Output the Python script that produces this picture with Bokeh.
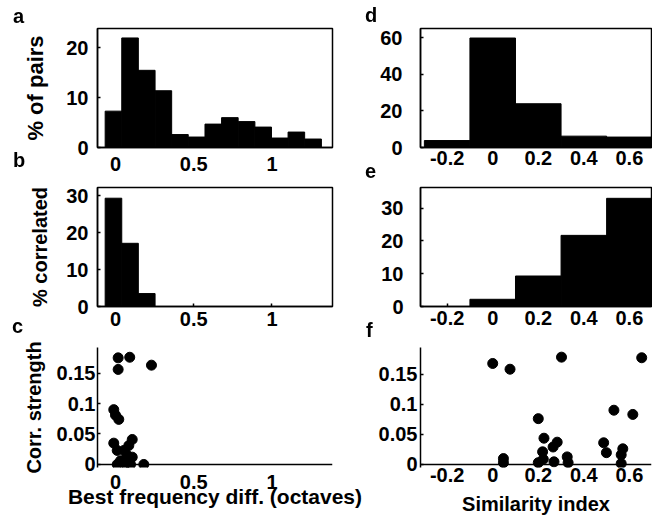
from bokeh.plotting import figure
from bokeh.layouts import column, row
from bokeh.models import FixedTicker, Range1d, Span, Div
from bokeh.embed import file_html
from bokeh.resources import INLINE

FONT = "Liberation Sans"

# ---- data -------------------------------------------------------------
# panel a: distribution of best-frequency differences (% of pairs)
bf_bin_centers = [-0.013, 0.093, 0.200, 0.306, 0.412, 0.519, 0.625,
                  0.731, 0.838, 0.944, 1.050, 1.156, 1.263]
bf_bin_width = 0.106
pairs_pct = [7.3, 22.0, 15.5, 11.4, 2.6, 2.1, 4.7, 6.0, 5.2, 4.1, 1.9, 3.1, 1.7]

# panel b: % correlated per best-frequency difference bin
corr_bf_centers = [-0.013, 0.093, 0.200]
corr_bf_pct = [29.3, 17.1, 3.5]

# panel c: correlation strength vs best-frequency difference
bf_diff = [0.017, 0.091, 0.017, 0.230, -0.011, 0.000, 0.021, -0.011, 0.011,
           0.107, 0.085, 0.053, 0.075, 0.107, 0.032, 0.096, 0.011, 0.181, 0.064]
strength_bf = [0.175, 0.176, 0.156, 0.163, 0.090, 0.081, 0.074, 0.035, 0.023,
               0.041, 0.031, 0.023, 0.015, 0.012, 0.006, 0.000, 0.000, 0.000, 0.001]

# panel d: distribution of similarity index (% of pairs)
sim_bin_centers = [-0.2, 0.0, 0.2, 0.4, 0.6]
sim_bin_width = 0.2
sim_pairs_pct = [3.8, 59.8, 23.9, 6.2, 5.7]

# panel e: % correlated per similarity bin
sim_corr_pct = [0.0, 2.2, 9.3, 21.7, 33.0]

# panel f: correlation strength vs similarity index
similarity = [0.0, 0.076, 0.302, 0.654, 0.200, 0.532, 0.615, 0.225, 0.283, 0.265,
              0.219, 0.487, 0.499, 0.571, 0.564, 0.047, 0.047, 0.222, 0.269, 0.327,
              0.331, 0.564, 0.200]
strength_sim = [0.1675, 0.158, 0.178, 0.177, 0.076, 0.090, 0.083, 0.0436, 0.037, 0.029,
                0.021, 0.036, 0.0196, 0.026, 0.016, 0.0098, 0.003, 0.0087, 0.0044, 0.0126,
                0.003, 0.0016, 0.003]

# ticks and tick labels
bf_ticks = [0, 0.5, 1]
bf_tick_labels = ["0", "0.5", "1"]
sim_ticks = [-0.2, 0, 0.2, 0.4, 0.6]
sim_tick_labels = ["-0.2", "0", "0.2", "0.4", "0.6"]
pairs_ticks = [0, 10, 20]
pairs_tick_labels = ["0", "10", "20"]
corr_ticks = [0, 10, 20, 30]
corr_tick_labels = ["0", "10", "20", "30"]
sim_pairs_ticks = [0, 20, 40, 60]
sim_pairs_tick_labels = ["0", "20", "40", "60"]
strength_ticks = [0, 0.05, 0.1, 0.15]
strength_tick_labels = ["0", "0.05", "0.1", "0.15"]

panel_letters = ["a", "b", "c", "d", "e", "f"]


def make_panel(width, height, xr, yr, borders, boxed):
    p = figure(width=width, height=height,
               x_range=Range1d(*xr), y_range=Range1d(*yr),
               output_backend="svg", toolbar_location=None, tools="",
               min_border_left=borders[0], min_border_right=borders[1],
               min_border_top=borders[2], min_border_bottom=borders[3])
    p.grid.visible = False
    p.background_fill_color = "white"
    p.border_fill_color = "white"
    p.outline_line_color = "black" if boxed else None
    p.outline_line_width = 1.5
    for ax in (p.xaxis[0], p.yaxis[0]):
        ax.axis_line_color = "black"
        ax.axis_line_width = 1.5
        ax.major_tick_in = 3
        ax.major_tick_out = 0
        ax.major_tick_line_width = 1.5
        ax.minor_tick_in = 0
        ax.minor_tick_out = 0
        ax.major_label_text_font = FONT
        ax.major_label_text_font_size = "20px"
        ax.major_label_text_font_style = "bold"
        ax.major_label_text_color = "black"
        ax.axis_label_text_font = FONT
        ax.axis_label_text_font_style = "bold"
        ax.axis_label_text_color = "black"
    return p


def set_ticks(ax, ticks, labels):
    ax.ticker = FixedTicker(ticks=ticks)
    ax.major_label_overrides = dict(zip(ticks, labels))


def bars(p, centers, heights, width):
    p.vbar(x=centers, top=heights, width=width, bottom=0,
           fill_color="black", line_color="black", line_width=1)


# panel letters: page positions (left, top) of each letter box
letter_pos = [(13, 6), (13, 150), (12, 316), (365, 5), (365, 161), (366, 320)]


def letters_div():
    spans = "".join(
        f'<div style="position:fixed;z-index:100;left:{x}px;top:{y}px;line-height:20px;'
        f"font-family:'{FONT}';font-size:20px;font-weight:bold;color:black;\">{s}</div>"
        for s, (x, y) in zip(panel_letters, letter_pos))
    return Div(text=spans, width=0, height=0, margin=0)


BF_RANGE = (-0.115, 1.387)
SIM_RANGE = (-0.317, 0.697)
LW, RW = 364, 288

# ---- panel a ----
pa = make_panel(LW, 180, BF_RANGE, (0, 23.9), (97, 32, 27, 33), True)
bars(pa, bf_bin_centers, pairs_pct, bf_bin_width)
set_ticks(pa.xaxis[0], bf_ticks, bf_tick_labels)
set_ticks(pa.yaxis[0], pairs_ticks, pairs_tick_labels)
pa.xaxis[0].major_label_standoff = 9
pa.yaxis[0].major_label_standoff = 9
pa.yaxis[0].axis_label = "% of pairs"
pa.yaxis[0].axis_label_text_font_size = "22px"
pa.yaxis[0].axis_label_standoff = 15

# ---- panel d ----
pd_ = make_panel(RW, 180, SIM_RANGE, (0, 65.0), (56, 1, 28, 33), True)
bars(pd_, sim_bin_centers, sim_pairs_pct, sim_bin_width)
set_ticks(pd_.xaxis[0], sim_ticks, sim_tick_labels)
set_ticks(pd_.yaxis[0], sim_pairs_ticks, sim_pairs_tick_labels)
pd_.xaxis[0].major_label_standoff = 3
pd_.yaxis[0].major_label_standoff = 18

# ---- panel b ----
pb = make_panel(LW, 156, BF_RANGE, (0, 32.2), (97, 32, 5, 30), True)
bars(pb, corr_bf_centers, corr_bf_pct, bf_bin_width)
set_ticks(pb.xaxis[0], bf_ticks, bf_tick_labels)
set_ticks(pb.yaxis[0], corr_ticks, corr_tick_labels)
pb.xaxis[0].major_label_standoff = 5
pb.yaxis[0].major_label_standoff = 9
pb.yaxis[0].axis_label = "% correlated"
pb.yaxis[0].axis_label_text_font_size = "20px"
pb.yaxis[0].axis_label_standoff = 12

# ---- panel e ----
pe = make_panel(RW, 156, SIM_RANGE, (0, 36.3), (56, 1, 7, 29), True)
bars(pe, sim_bin_centers, sim_corr_pct, sim_bin_width)
set_ticks(pe.xaxis[0], sim_ticks, sim_tick_labels)
set_ticks(pe.yaxis[0], corr_ticks, corr_tick_labels)
pe.xaxis[0].major_label_standoff = 4
pe.yaxis[0].major_label_standoff = 17

# ---- panel c ----
pc = make_panel(LW, 190, BF_RANGE, (-0.005, 0.192), (97, 32, 9, 59), False)
pc.scatter(x=bf_diff, y=strength_bf, size=10, marker="circle",
           fill_color="black", line_color="black")
pc.xaxis[0].axis_line_color = None
pc.xaxis[0].major_tick_in = 0
pc.add_layout(Span(location=0, dimension="width", line_color="black", line_width=1.5))
set_ticks(pc.xaxis[0], bf_ticks, bf_tick_labels)
set_ticks(pc.yaxis[0], strength_ticks, strength_tick_labels)
pc.xaxis[0].major_label_standoff = 7
pc.yaxis[0].major_label_standoff = 2
pc.yaxis[0].axis_label = "Corr. strength"
pc.yaxis[0].axis_label_text_font_size = "20px"
pc.yaxis[0].axis_label_standoff = 9
pc.xaxis[0].axis_label = "Best frequency diff. (octaves)"
pc.xaxis[0].axis_label_text_font_size = "21px"
pc.xaxis[0].axis_label_standoff = -7

# ---- panel f ----
pf = make_panel(RW, 190, SIM_RANGE, (-0.005, 0.194), (56, 1, 11, 57), False)
pf.scatter(x=similarity, y=strength_sim, size=10, marker="circle",
           fill_color="black", line_color="black")
pf.xaxis[0].axis_line_color = None
pf.xaxis[0].major_tick_in = 0
pf.add_layout(Span(location=0, dimension="width", line_color="black", line_width=1.5))
set_ticks(pf.xaxis[0], sim_ticks, sim_tick_labels)
set_ticks(pf.yaxis[0], strength_ticks, strength_tick_labels)
pf.xaxis[0].major_label_standoff = 0
pf.yaxis[0].major_label_standoff = 3
pf.xaxis[0].axis_label = "Similarity index"
pf.xaxis[0].axis_label_text_font_size = "20px"
pf.xaxis[0].axis_label_standoff = 8

layout = column(row(pa, pd_), row(pb, pe), row(pc, pf, letters_div()))
open("out.html", "w").write(file_html(layout, INLINE))
